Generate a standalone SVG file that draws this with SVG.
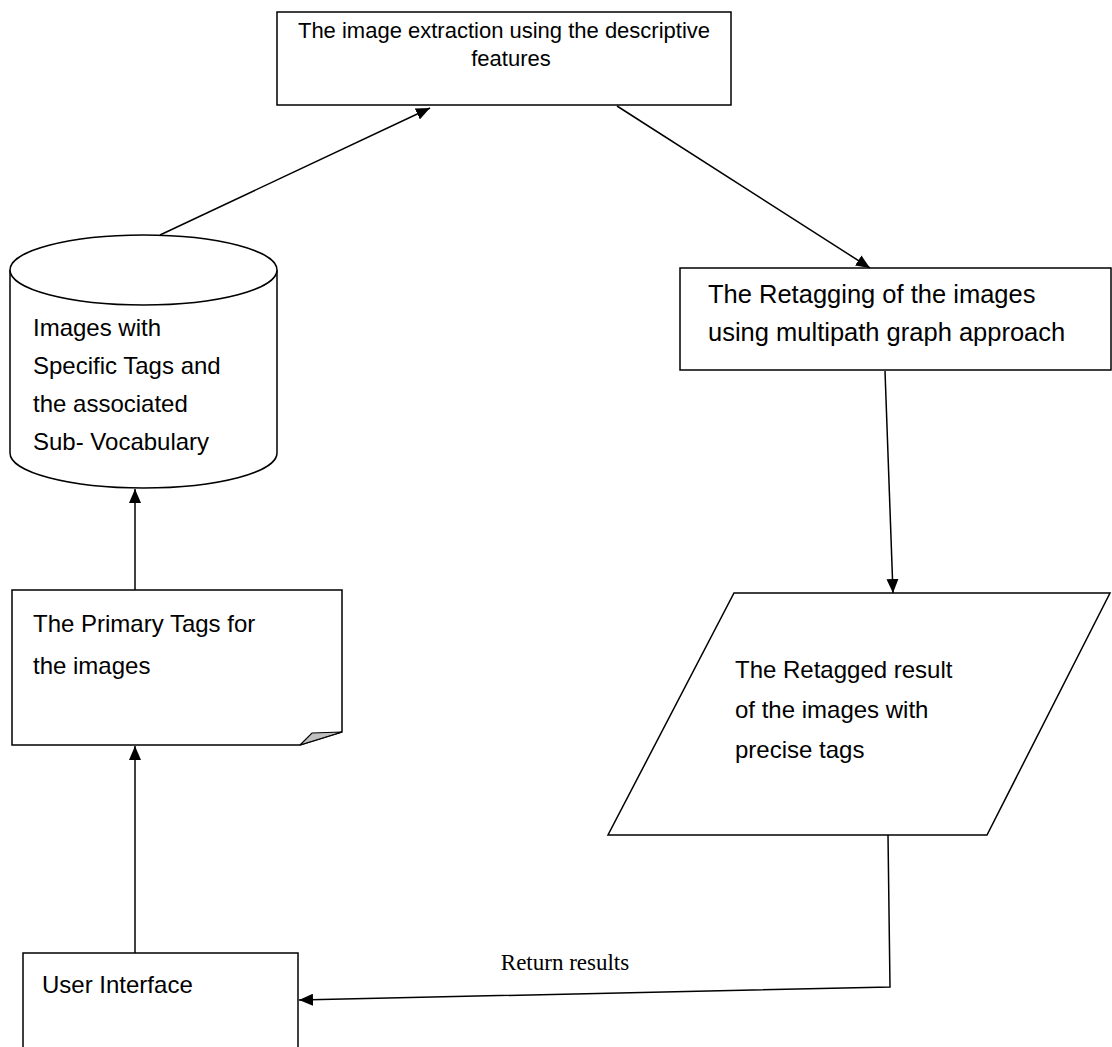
<svg xmlns="http://www.w3.org/2000/svg" width="1112" height="1047" viewBox="0 0 1112 1047">
<defs>
<style>
.shape{fill:#fff;stroke:#000;stroke-width:1.5}
.t{font-family:"Liberation Sans",Arial,sans-serif;font-size:24px;fill:#000}
.ts{font-family:"Liberation Sans",Arial,sans-serif;font-size:22px;fill:#000}
.tl{font-family:"Liberation Sans",Arial,sans-serif;font-size:25.5px;fill:#000}
.lbl{font-family:"Liberation Serif","Times New Roman",serif;font-size:23px;fill:#000}
.conn{fill:none;stroke:#000;stroke-width:1.5}
</style>
<marker id="arr" viewBox="0 0 14 12" refX="14" refY="6" markerWidth="14" markerHeight="12" markerUnits="userSpaceOnUse" orient="auto">
<path d="M0,0 L14,6 L0,12 Z" fill="#000"/>
</marker>
</defs>
<rect width="1112" height="1047" fill="#fff"/>
<g id="node-extraction">
<rect class="shape" x="277" y="12" width="454" height="93"/>
<text class="ts" x="504" y="38" text-anchor="middle">The image extraction using the descriptive</text>
<text class="ts" x="511" y="66" text-anchor="middle">features</text>
</g>
<g id="node-database">
<path class="shape" d="M10,270 L10,453 A133.5,35 0 0 0 277,453 L277,270"/>
<ellipse class="shape" cx="143.5" cy="270" rx="133.5" ry="35"/>
<text class="t" x="33" y="336">Images with</text>
<text class="t" x="33" y="374">Specific Tags and</text>
<text class="t" x="33" y="412">the associated</text>
<text class="t" x="33" y="450">Sub- Vocabulary</text>
</g>
<g id="node-primary">
<path class="shape" d="M12,590 L342,590 L342,732 L300,745 L12,745 Z"/>
<path d="M300,745 L312,733 L342,732 Z" fill="#c0c0c0" stroke="#000" stroke-width="1.2"/>
<text class="t" x="33" y="632">The Primary Tags for</text>
<text class="t" x="33" y="674">the images</text>
</g>
<g id="node-retagging">
<rect class="shape" x="680" y="268" width="431" height="102"/>
<text class="tl" x="708" y="303">The Retagging of the images</text>
<text class="tl" x="708" y="341">using multipath graph approach</text>
</g>
<g id="node-result">
<path class="shape" d="M734,593 L1110,593 L987,835 L608,835 Z"/>
<text class="t" x="735" y="678">The Retagged result</text>
<text class="t" x="735" y="718">of the images with</text>
<text class="t" x="735" y="758">precise tags</text>
</g>
<g id="node-ui">
<rect class="shape" x="23" y="953" width="275" height="110"/>
<text class="t" x="42" y="993">User Interface</text>
</g>
<g id="connectors">
<path class="conn" d="M160,235 L430,108" marker-end="url(#arr)"/>
<path class="conn" d="M617,106 L870,268" marker-end="url(#arr)"/>
<path class="conn" d="M885,371 L893,593" marker-end="url(#arr)"/>
<path class="conn" d="M135,590 L135,489" marker-end="url(#arr)"/>
<path class="conn" d="M135,953 L135,746" marker-end="url(#arr)"/>
<path class="conn" d="M888,835 L890,987 L299,1000" marker-end="url(#arr)"/>
<text class="lbl" x="565" y="970" text-anchor="middle">Return results</text>
</g>
</svg>
